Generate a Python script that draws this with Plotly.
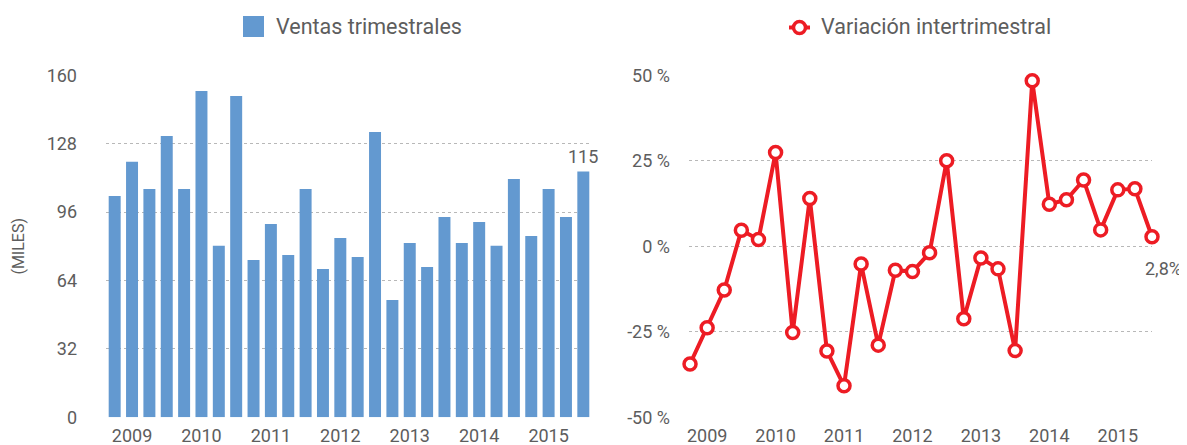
import plotly.graph_objects as go

# the page body adds an 8 px margin, so the figure is drawn 8 px smaller
OFF = 8
W, H = 1187 - OFF, 445 - OFF

quarters = [f"{y}T{q}" for y in range(2009, 2016) for q in range(1, 5)]
year_labels = ["2009", "2010", "2011", "2012", "2013", "2014", "2015"]
year_tick_idx = [1, 5, 9, 13, 17, 21, 25]

ventas = [103.5, 119.5, 106.8, 131.6, 106.8, 152.7, 80.2, 150.3,
          73.6, 90.4, 75.9, 106.8, 69.4, 83.9, 75.0, 133.5,
          54.9, 81.6, 70.3, 93.7, 81.6, 91.4, 80.2, 111.5,
          84.8, 106.8, 93.7, 115.0]

variacion = [-34.4, -23.8, -12.8, 4.7, 2.0, 27.4, -25.2, 14.0,
             -30.6, -40.8, -5.2, -28.9, -7.0, -7.4, -1.9, 25.0,
             -21.2, -3.4, -6.6, -30.5, 48.4, 12.3, 13.6, 19.4,
             4.8, 16.5, 16.8, 2.8]

left_ticks = [0, 32, 64, 96, 128, 160]
right_ticks = [-50, -25, 0, 25, 50]
right_ticktext = ["-50 %", "-25 %", "0 %", "25 %", "50 %"]

BLUE = "#6399d0"
RED = "#ed1c24"
GREY = "#5d5d5d"
GRID = "#b8b8b8"
FONT = "Roboto"

idx = list(range(len(quarters)))

fig = go.Figure()
fig.add_trace(go.Bar(x=idx, y=ventas, marker=dict(color=BLUE, line=dict(width=0)),
                     width=0.69, xaxis="x", yaxis="y", showlegend=False,
                     hoverinfo="y", name="Ventas trimestrales"))
fig.add_trace(go.Scatter(x=idx, y=variacion, mode="lines+markers",
                         line=dict(color=RED, width=4),
                         marker=dict(symbol="circle", size=12, color="white",
                                     line=dict(color=RED, width=3.5)),
                         cliponaxis=False, xaxis="x2", yaxis="y2", showlegend=False,
                         name="Variación intertrimestral"))


def px(x):
    return (x - OFF) / W


def py(y):
    return (H - (y - OFF)) / H


ydom = [py(417.3), py(75.3)]

axis_font = dict(family=FONT, size=18, color=GREY)

fig.update_layout(
    width=W, height=H,
    margin=dict(l=0, r=0, t=0, b=0),
    paper_bgcolor="white", plot_bgcolor="white",
    font=dict(family=FONT, color=GREY),
    xaxis=dict(domain=[px(106), px(592)], range=[-0.5, 27.5],
               tickvals=year_tick_idx, ticktext=year_labels,
               tickfont=axis_font, showgrid=False, zeroline=False,
               showline=False, ticks="", automargin=False, ticklabelstandoff=6),
    yaxis=dict(domain=ydom, range=[0, 160], tickvals=left_ticks,
               tickfont=axis_font, showgrid=True, gridcolor=GRID, griddash="dot",
               gridwidth=1, zeroline=False, showline=False, ticks="",
               automargin=False, ticklabelstandoff=28,
               title=dict(text="(MILES)", font=dict(family=FONT, size=16, color=GREY),
                          standoff=18)),
    xaxis2=dict(domain=[px(689), px(1152)], range=[-0.06, 27.0], anchor="y2",
                tickvals=year_tick_idx, ticktext=year_labels,
                tickfont=axis_font, showgrid=False, zeroline=False,
                showline=False, ticks="", automargin=False, ticklabelstandoff=6),
    yaxis2=dict(domain=ydom, range=[-50, 50], anchor="x2",
                tickvals=right_ticks, ticktext=right_ticktext,
                tickfont=axis_font, showgrid=True, gridcolor=GRID, griddash="dot",
                gridwidth=1, zeroline=False, showline=False, ticks="",
                automargin=False, ticklabelstandoff=18),
)

# value annotations
fig.add_annotation(x=idx[-1], y=ventas[-1], xref="x", yref="y", text="115",
                   showarrow=False, yanchor="bottom", yshift=2,
                   font=dict(family=FONT, size=18, color=GREY))
fig.add_annotation(x=idx[-1], y=variacion[-1], xref="x2", yref="y2",
                   text="2,8%", showarrow=False, yanchor="middle",
                   yshift=-32, xshift=11,
                   font=dict(family=FONT, size=18, color=GREY))

# manual legends
fig.add_shape(type="rect", xref="paper", yref="paper",
              x0=px(243), x1=px(264), y0=py(37), y1=py(16),
              fillcolor=BLUE, line=dict(width=0))
fig.add_annotation(x=px(274), y=py(27), xref="paper", yref="paper",
                   text="Ventas trimestrales", showarrow=False,
                   xanchor="left", yanchor="middle",
                   font=dict(family=FONT, size=21.5, color=GREY))
fig.add_shape(type="line", xref="paper", yref="paper",
              x0=px(789), x1=px(810), y0=py(27.5), y1=py(27.5),
              line=dict(color=RED, width=4))
fig.add_shape(type="circle", xref="paper", yref="paper",
              x0=px(793.5), x1=px(805.5), y0=py(33.5), y1=py(21.5),
              fillcolor="white", line=dict(color=RED, width=3.5))
fig.add_annotation(x=px(819), y=py(27), xref="paper", yref="paper",
                   text="Variación intertrimestral", showarrow=False,
                   xanchor="left", yanchor="middle",
                   font=dict(family=FONT, size=21.5, color=GREY))

fig.write_html("out.html")
